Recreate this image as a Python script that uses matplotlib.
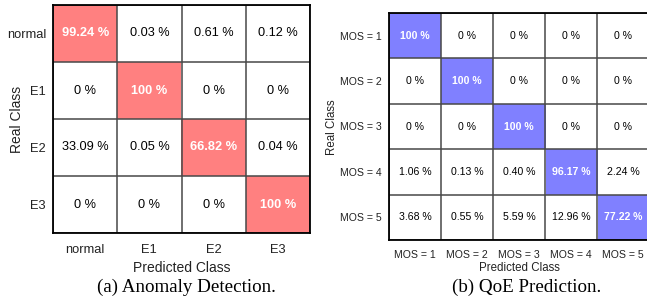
import matplotlib
matplotlib.use("Agg")
import matplotlib.pyplot as plt
import numpy as np

plt.rcParams['font.family'] = ['Liberation Sans', 'DejaVu Sans']

# Data (percent, rows = real class, cols = predicted)
anomaly_labels = ["normal", "E1", "E2", "E3"]
anomaly_cm = [
    [99.24, 0.03, 0.61, 0.12],
    [0, 100, 0, 0],
    [33.09, 0.05, 66.82, 0.04],
    [0, 0, 0, 100],
]
qoe_labels = ["MOS = 1", "MOS = 2", "MOS = 3", "MOS = 4", "MOS = 5"]
qoe_cm = [
    [100, 0, 0, 0, 0],
    [0, 100, 0, 0, 0],
    [0, 0, 100, 0, 0],
    [1.06, 0.13, 0.40, 96.17, 2.24],
    [3.68, 0.55, 5.59, 12.96, 77.22],
]


def fmt(v):
    if float(v).is_integer():
        return "%d %%" % v
    return "%.2f %%" % v


def draw_cm(ax, cm, labels, diag_color, fs_cell, fs_tick, fs_label):
    cm = np.asarray(cm, dtype=float)
    n = cm.shape[0]
    rgb = np.ones((n, n, 3))
    col = matplotlib.colors.to_rgb(diag_color)
    for i in range(n):
        rgb[i, i] = col
    ax.imshow(rgb, aspect='auto', interpolation='nearest')
    for i in range(n):
        for j in range(n):
            if i == j:
                ax.text(j, i, fmt(cm[i, j]), ha='center', va='center',
                        color='white', fontweight='bold', fontsize=fs_cell)
            else:
                ax.text(j, i, fmt(cm[i, j]), ha='center', va='center',
                        color='black', fontsize=fs_cell)
    ax.set_xticks(range(n))
    ax.set_xticklabels(labels, fontsize=fs_tick, color='#222222')
    ax.set_yticks(range(n))
    ax.set_yticklabels(labels, fontsize=fs_tick, color='#222222')
    ax.set_xticks(np.arange(n + 1) - 0.5, minor=True)
    ax.set_yticks(np.arange(n + 1) - 0.5, minor=True)
    ax.grid(which='minor', color='#484848', linewidth=1.1)
    ax.tick_params(which='both', length=0)
    for s in ax.spines.values():
        s.set_color('black')
        s.set_linewidth(1.3)
    ax.set_xlabel('Predicted Class', fontsize=fs_label, color='#222222', va='center')
    ax.set_ylabel('Real Class', fontsize=fs_label, color='#222222', va='center')


fig = plt.figure(figsize=(6.47, 2.99), dpi=100)

ax1 = fig.add_axes([53 / 647, 1 - 233 / 299, 257 / 647, 228 / 299])
draw_cm(ax1, anomaly_cm, anomaly_labels, '#FF8080', 9.2, 9.3, 10)
ax1.tick_params(axis='x', pad=8)
ax1.tick_params(axis='y', pad=5)
ax1.xaxis.set_label_coords(0.5, -0.152)
ax1.yaxis.set_label_coords(-0.140, 0.496)

ax2 = fig.add_axes([389 / 647, 1 - 240 / 299, 260 / 647, 227 / 299])
draw_cm(ax2, qoe_cm, qoe_labels, '#8080FF', 7.6, 7.6, 8.3)
ax2.tick_params(axis='x', pad=7)
ax2.tick_params(axis='y', pad=5)
ax2.xaxis.set_label_coords(0.5, -0.125)
ax2.yaxis.set_label_coords(-0.219, 0.498)

fig.text(186 / 647, 1 - 287 / 299, "(a) Anomaly Detection.", ha='center', va='center',
         fontsize=13.7, family='Liberation Serif')
fig.text(527 / 647, 1 - 287 / 299, "(b) QoE Prediction.", ha='center', va='center',
         fontsize=13.7, family='Liberation Serif')

fig.savefig("out.png", dpi=100)
